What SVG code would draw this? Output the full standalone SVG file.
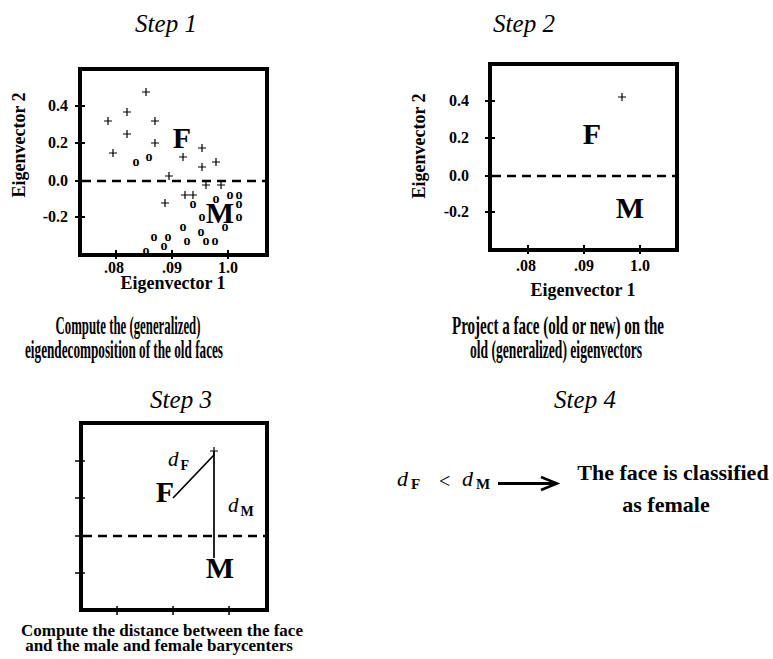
<svg xmlns="http://www.w3.org/2000/svg" xmlns:xlink="http://www.w3.org/1999/xlink" width="773" height="659" viewBox="0 0 773 659">
<style>
text{font-family:"Liberation Serif","Times New Roman",serif;fill:#000}
.title{font-style:italic;font-size:25px;text-anchor:middle}
.box{fill:none;stroke:#000;stroke-width:4}
.tick{stroke:#000;stroke-width:2}
.tick3{stroke:#000;stroke-width:1.5}
.dash{stroke:#000;stroke-width:2.5;stroke-dasharray:9 6}
.tl{font-weight:bold;font-size:16px;text-anchor:end}
.tx{font-weight:bold;font-size:16px;text-anchor:middle}
.ax{font-weight:bold;font-size:18px;text-anchor:middle}
.big{font-weight:bold;font-size:30px;text-anchor:middle}
.o{font-weight:bold;font-size:14px;text-anchor:middle}
.cap{font-weight:bold;font-size:25px;text-anchor:middle}
.cap4{font-weight:bold;font-size:22px;text-anchor:middle}
.cap3{font-weight:bold;font-size:17px;text-anchor:middle}
.d{font-style:italic;font-size:21px}
.sub{font-weight:bold;font-size:14px}
.thin{stroke:#000;stroke-width:1.7;fill:none}
</style>
<defs>
<path id="p" d="M-4,0H4M0,-4V4" stroke="#000" stroke-width="1.2" fill="none"/>
</defs>

<g id="step1">
<text class="title" x="166" y="32">Step 1</text>
<rect class="box" x="80" y="69" width="187" height="186"/>
<g class="tick">
<line x1="75" y1="106" x2="85" y2="106"/><line x1="75" y1="143" x2="85" y2="143"/>
<line x1="75" y1="181" x2="85" y2="181"/><line x1="75" y1="217" x2="85" y2="217"/>
<line x1="116" y1="250" x2="116" y2="259"/><line x1="172" y1="250" x2="172" y2="259"/><line x1="228" y1="250" x2="228" y2="259"/>
</g>
<line class="dash" x1="82" y1="181" x2="265" y2="181"/>
<text class="tl" x="68" y="111">0.4</text>
<text class="tl" x="68" y="148">0.2</text>
<text class="tl" x="68" y="186">0.0</text>
<text class="tl" x="68" y="222">-0.2</text>
<text class="tx" x="114" y="273">.08</text>
<text class="tx" x="172" y="273">.09</text>
<text class="tx" x="228" y="273">1.0</text>
<text class="ax" x="173" y="289">Eigenvector 1</text>
<text class="ax" transform="translate(25,145) rotate(-90)">Eigenvector 2</text>
<g>
<use xlink:href="#p" x="146" y="92"/><use xlink:href="#p" x="127" y="112"/><use xlink:href="#p" x="108" y="121"/>
<use xlink:href="#p" x="155" y="121"/><use xlink:href="#p" x="127" y="134"/><use xlink:href="#p" x="155" y="143"/>
<use xlink:href="#p" x="113" y="153"/><use xlink:href="#p" x="183" y="157"/><use xlink:href="#p" x="202" y="148"/>
<use xlink:href="#p" x="202" y="167"/><use xlink:href="#p" x="216" y="162"/><use xlink:href="#p" x="169" y="176"/>
<use xlink:href="#p" x="206" y="185"/><use xlink:href="#p" x="221" y="185"/><use xlink:href="#p" x="185" y="195"/>
<use xlink:href="#p" x="193" y="195"/><use xlink:href="#p" x="165" y="203"/>
</g>
<g>
<text class="o" x="136" y="166">o</text><text class="o" x="149" y="161">o</text><text class="o" x="193" y="208">o</text>
<text class="o" x="216" y="203">o</text><text class="o" x="230" y="199">o</text><text class="o" x="239" y="199">o</text>
<text class="o" x="239" y="208">o</text><text class="o" x="202" y="221">o</text><text class="o" x="239" y="221">o</text>
<text class="o" x="225" y="231">o</text><text class="o" x="183" y="231">o</text><text class="o" x="201" y="236">o</text>
<text class="o" x="154" y="241">o</text><text class="o" x="168" y="241">o</text><text class="o" x="164" y="250">o</text>
<text class="o" x="187" y="245">o</text><text class="o" x="206" y="245">o</text><text class="o" x="215" y="245">o</text>
<text class="o" x="146" y="255">o</text>
</g>
<text class="big" x="182" y="148">F</text>
<text class="big" x="220" y="223">M</text>
<text class="cap" x="128" y="334" textLength="145" lengthAdjust="spacingAndGlyphs">Compute the (generalized)</text>
<text class="cap" x="124" y="358" textLength="198" lengthAdjust="spacingAndGlyphs">eigendecomposition of the old faces</text>
</g>

<g id="step2">
<text class="title" x="524" y="32">Step 2</text>
<rect class="box" x="490" y="64" width="187" height="186"/>
<g class="tick">
<line x1="485" y1="101" x2="495" y2="101"/><line x1="485" y1="138" x2="495" y2="138"/>
<line x1="485" y1="176" x2="495" y2="176"/><line x1="485" y1="212" x2="495" y2="212"/>
<line x1="528" y1="245" x2="528" y2="254"/><line x1="584" y1="245" x2="584" y2="254"/><line x1="640" y1="245" x2="640" y2="254"/>
</g>
<line class="dash" x1="492" y1="176" x2="675" y2="176"/>
<text class="tl" x="469" y="106">0.4</text>
<text class="tl" x="469" y="143">0.2</text>
<text class="tl" x="469" y="181">0.0</text>
<text class="tl" x="469" y="217">-0.2</text>
<text class="tx" x="526" y="271">.08</text>
<text class="tx" x="584" y="271">.09</text>
<text class="tx" x="640" y="271">1.0</text>
<text class="ax" x="583" y="296">Eigenvector 1</text>
<text class="ax" transform="translate(425,146) rotate(-90)">Eigenvector 2</text>
<use xlink:href="#p" x="622" y="97"/>
<text class="big" x="592" y="144">F</text>
<text class="big" x="630" y="218">M</text>
<text class="cap" x="558" y="334" textLength="212" lengthAdjust="spacingAndGlyphs">Project a face (old or new) on the</text>
<text class="cap" x="556" y="358" textLength="172" lengthAdjust="spacingAndGlyphs">old (generalized) eigenvectors</text>
</g>

<g id="step3">
<text class="title" x="181" y="408">Step 3</text>
<rect class="box" x="81" y="423" width="186" height="187"/>
<g class="tick3">
<line x1="75" y1="461" x2="85" y2="461"/><line x1="75" y1="498" x2="85" y2="498"/>
<line x1="75" y1="536" x2="85" y2="536"/><line x1="75" y1="573" x2="85" y2="573"/>
<line x1="117" y1="606" x2="117" y2="615"/><line x1="173" y1="606" x2="173" y2="615"/><line x1="229" y1="606" x2="229" y2="615"/>
</g>
<line class="dash" x1="83" y1="536" x2="265" y2="536"/>
<use xlink:href="#p" x="214" y="451"/>
<text class="big" x="174" y="502" style="text-anchor:end">F</text>
<text class="big" x="220" y="578">M</text>
<text x="168" y="466"><tspan class="d">d</tspan><tspan class="sub" dx="2" dy="4">F</tspan></text>
<text x="228" y="512"><tspan class="d">d</tspan><tspan class="sub" dx="2" dy="4">M</tspan></text>
<text class="cap3" x="162" y="636">Compute the distance between the face</text>
<text class="cap3" x="159" y="651">and the male and female barycenters</text>
</g>

<g id="step4">
<text class="title" x="585" y="408">Step 4</text>
<text x="397" y="486"><tspan class="d" style="font-size:22px">d</tspan><tspan class="sub" style="font-size:15px" dx="3" dy="3">F</tspan></text>
<text x="439" y="488" style="font-size:20px">&lt;</text>
<text x="462" y="486"><tspan class="d" style="font-size:22px">d</tspan><tspan class="sub" style="font-size:15px" dx="3" dy="3">M</tspan></text>
<text class="cap4" x="673" y="480">The face is classified</text>
<text class="cap4" x="666" y="512">as female</text>
</g>

<g id="connectors">
<polyline class="thin" points="173,498 214,455"/>
<line class="thin" x1="214" y1="451" x2="214" y2="558"/>
<line x1="498" y1="483.5" x2="554" y2="483.5" stroke="#000" stroke-width="3"/>
<path d="M541,477 L557,483.5 L541,490" fill="none" stroke="#000" stroke-width="2.5"/>
</g>
</svg>
